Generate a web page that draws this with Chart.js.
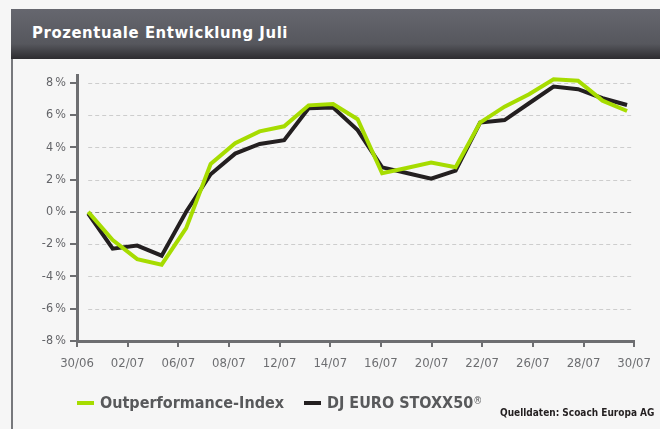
<!DOCTYPE html>
<html>
<head>
<meta charset="utf-8">
<script src="https://cdn.jsdelivr.net/npm/chart.js@4/dist/chart.umd.min.js"></script>
<style>
  html, body { margin: 0; padding: 0; background: #f6f6f6; }
  body { width: 660px; height: 429px; position: relative; overflow: hidden;
         font-family: "DejaVu Sans Condensed", "Liberation Sans Narrow", "DejaVu Sans", sans-serif; }
  #chart { position: absolute; left: 0; top: 0; }
  .header { position: absolute; left: 11px; top: 9px; width: 660px; height: 50px;
            background: linear-gradient(#66676f, #56575d 70%, #2d2c30);
            border-top-right-radius: 9px; }
  .header h1 { margin: 0; position: absolute; left: 21px; top: 14px; color: #fff;
               font-size: 16.5px; font-weight: bold; letter-spacing: 0.6px; }
  .frame { position: absolute; left: 11px; top: 59px; width: 2px; height: 370px; background: #77787c; }
  .legend { position: absolute; left: 77px; top: 393px; display: flex; align-items: center;
            font-size: 16px; font-weight: bold; color: #58595b; }
  .legend .item { display: flex; align-items: center; margin-right: 20px; }
  .legend .sw { width: 17px; height: 4px; margin-right: 6px; }
  .legend sup { font-size: 10px; font-weight: normal; position: relative; top: -2px; }
  .source { position: absolute; left: 500px; top: 407px; font-size: 10px; font-weight: bold; color: #231f20; }
</style>
</head>
<body>
<canvas id="chart" width="660" height="429"></canvas>
<div class="header"><h1>Prozentuale Entwicklung Juli</h1></div>
<div class="frame"></div>
<div class="legend" id="legend"></div>
<div class="source">Quelldaten: Scoach Europa AG</div>
<script>
// trading days shown in the chart
const dates = ['30/06', '01/07', '02/07', '05/07', '06/07', '07/07', '08/07', '09/07', '12/07', '13/07',
  '14/07', '15/07', '16/07', '19/07', '20/07', '21/07', '22/07', '23/07', '26/07', '27/07',
  '28/07', '29/07', '30/07'];

// axis labels (spread evenly along the axis)
const xLabels = ['30/06', '02/07', '06/07', '08/07', '12/07', '14/07', '16/07', '20/07', '22/07', '26/07', '28/07', '30/07'];

// percent change since 30/06
const outperformance = [0, -1.74, -2.93, -3.27, -1.01, 2.97, 4.25, 4.99, 5.30, 6.60, 6.68, 5.74, 2.39,
  2.72, 3.05, 2.76, 5.53, 6.52, 7.29, 8.22, 8.13, 6.89, 6.25];
const stoxx50 = [-0.1, -2.28, -2.09, -2.71, 0.01, 2.33, 3.61, 4.21, 4.44, 6.42, 6.46, 5.07, 2.76,
  2.41, 2.06, 2.55, 5.53, 5.69, 6.73, 7.76, 7.60, 7.04, 6.62];

const axisColor = '#6d6e71';
const fontFamily = '"DejaVu Sans Condensed", "Liberation Sans Narrow", "DejaVu Sans", sans-serif';

const toPoints = arr => arr.map((v, i) => ({ x: i, y: v, date: dates[i] }));

// dashed horizontal guide lines, starting at the first data point
const dashedGrid = {
  id: 'dashedGrid',
  beforeDatasetsDraw(chart) {
    const { ctx, chartArea, scales } = chart;
    const left = scales.x.getPixelForValue(0);
    const right = chartArea.right - 3;
    ctx.save();
    ctx.lineWidth = 1;
    ctx.setLineDash([4, 3]);
    scales.y.ticks.forEach(t => {
      if (t.value === scales.y.min) return;
      const py = Math.round(scales.y.getPixelForValue(t.value)) + 0.5;
      ctx.strokeStyle = t.value === 0 ? '#8e8e90' : '#cdcdcd';
      ctx.beginPath();
      ctx.moveTo(left, py);
      ctx.lineTo(right, py);
      ctx.stroke();
    });
    ctx.restore();
  }
};

const chart = new Chart(document.getElementById('chart'), {
  type: 'line',
  data: {
    datasets: [
      {
        label: 'Outperformance-Index',
        data: toPoints(outperformance),
        borderColor: '#a6dc00',
        backgroundColor: '#a6dc00',
        borderWidth: 4,
        pointRadius: 0,
        tension: 0
      },
      {
        label: 'DJ EURO STOXX50',
        data: toPoints(stoxx50),
        borderColor: '#231f20',
        backgroundColor: '#231f20',
        borderWidth: 4,
        pointRadius: 0,
        tension: 0
      }
    ]
  },
  options: {
    responsive: false,
    animation: false,
    layout: { padding: { top: 75, right: 20, bottom: 58, left: 0 } },
    plugins: {
      legend: { display: false },
      tooltip: { enabled: false }
    },
    scales: {
      x: {
        type: 'linear',
        display: false,
        min: -0.457,
        max: 22.29
      },
      x2: {
        type: 'category',
        labels: xLabels,
        position: 'bottom',
        offset: false,
        afterFit: s => { s.height = 30; },
        border: { display: true, color: axisColor, width: 3 },
        grid: { drawOnChartArea: false, drawTicks: true, tickLength: 6, color: axisColor, lineWidth: 2 },
        ticks: {
          autoSkip: false, maxRotation: 0, padding: 9,
          color: axisColor,
          font: { family: fontFamily, size: 13 }
        }
      },
      y: {
        min: -8,
        max: 8.48,
        afterFit: s => { s.width = 77; },
        border: { display: true, color: axisColor, width: 3 },
        grid: { drawOnChartArea: false, tickLength: 7, color: axisColor, lineWidth: 2 },
        ticks: {
          stepSize: 2,
          includeBounds: false,
          padding: 4,
          color: '#646569',
          font: { family: fontFamily, size: 12.5 },
          callback: v => v + '\u2009%'
        }
      }
    }
  },
  plugins: [dashedGrid]
});

// legend built from the datasets
const legend = document.getElementById('legend');
chart.data.datasets.forEach((ds, i) => {
  const item = document.createElement('div');
  item.className = 'item';
  const sw = document.createElement('span');
  sw.className = 'sw';
  sw.style.background = ds.borderColor;
  item.appendChild(sw);
  const txt = document.createElement('span');
  txt.textContent = ds.label;
  item.appendChild(txt);
  if (i === 1) {
    const sup = document.createElement('sup');
    sup.textContent = '®';
    item.appendChild(sup);
  }
  legend.appendChild(item);
});
</script>
</body>
</html>
